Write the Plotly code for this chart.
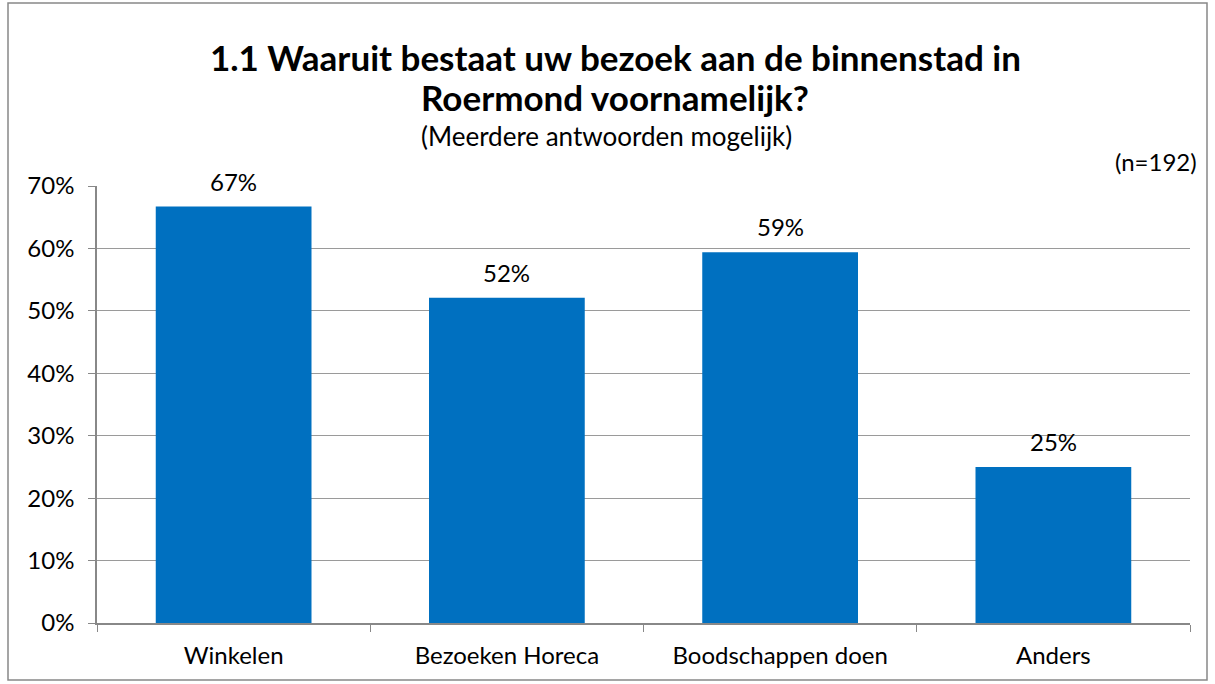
import plotly.graph_objects as go

categories = ["Winkelen", "Bezoeken Horeca", "Boodschappen doen", "Anders"]
values = [66.7, 52.1, 59.4, 25.0]
labels = ["67%", "52%", "59%", "25%"]
tick_vals = [0, 10, 20, 30, 40, 50, 60, 70]
tick_text = ["0%", "10%", "20%", "30%", "40%", "50%", "60%", "70%"]

FONT = "Lato"
W, H = 1215, 684
L, R, T, B = 97, 25, 186, 61
pw, ph = W - L - R, H - T - B

def px(x):
    return (x - L) / pw

def py(y):
    return (H - B - y) / ph

fig = go.Figure(go.Bar(
    x=categories, y=values,
    marker=dict(color="#0070C0", line=dict(width=0)),
    hoverinfo="x+y",
))

label_annotations = [
    dict(x=c, y=v, xref="x", yref="y", text=t, showarrow=False,
         yanchor="bottom", xanchor="center", yshift=9,
         font=dict(family=FONT, size=24, color="#000000"))
    for c, v, t in zip(categories, values, labels)
]

fig.update_layout(
    width=W, height=H,
    margin=dict(l=L, r=R, t=T, b=B),
    paper_bgcolor="white", plot_bgcolor="white",
    bargap=0.43,
    showlegend=False,
    font=dict(family=FONT, size=24, color="#000000"),
    xaxis=dict(
        type="category", showline=True, linecolor="#888888", linewidth=1.5,
        ticks="outside", tickson="boundaries", ticklen=7, tickcolor="#888888",
        tickfont=dict(family=FONT, size=24), showgrid=False,
        ticklabelstandoff=10,
    ),
    yaxis=dict(
        range=[0, 70], tickvals=tick_vals, ticktext=tick_text,
        showline=True, linecolor="#888888", linewidth=1.5,
        ticks="outside", ticklen=7, tickcolor="#888888",
        showgrid=True, gridcolor="#9A9A9A", gridwidth=1.2,
        tickfont=dict(family=FONT, size=24), zeroline=False,
        ticklabelstandoff=9,
    ),
    shapes=[dict(type="rect", xref="paper", yref="paper",
                 x0=px(8), x1=px(1207), y0=py(680), y1=py(3),
                 line=dict(color="#888888", width=1.5))],
    annotations=label_annotations + [
        dict(text="<b>1.1 Waaruit bestaat uw bezoek aan de binnenstad in</b>",
             x=px(615), y=py(57), xref="paper", yref="paper", showarrow=False,
             font=dict(family=FONT, size=35), xanchor="center", yanchor="middle"),
        dict(text="<b>Roermond voornamelijk?</b>",
             x=px(615), y=py(97), xref="paper", yref="paper", showarrow=False,
             font=dict(family=FONT, size=35), xanchor="center", yanchor="middle"),
        dict(text="(Meerdere antwoorden mogelijk)",
             x=px(606), y=py(136), xref="paper", yref="paper", showarrow=False,
             font=dict(family=FONT, size=26), xanchor="center", yanchor="middle"),
        dict(text="(n=192)",
             x=px(1199), y=py(161), xref="paper", yref="paper", showarrow=False,
             font=dict(family=FONT, size=24), xanchor="right", yanchor="middle"),
    ],
)

fig.write_html("out.html", config={"displayModeBar": False},
               post_script="document.body.style.margin='0';")
